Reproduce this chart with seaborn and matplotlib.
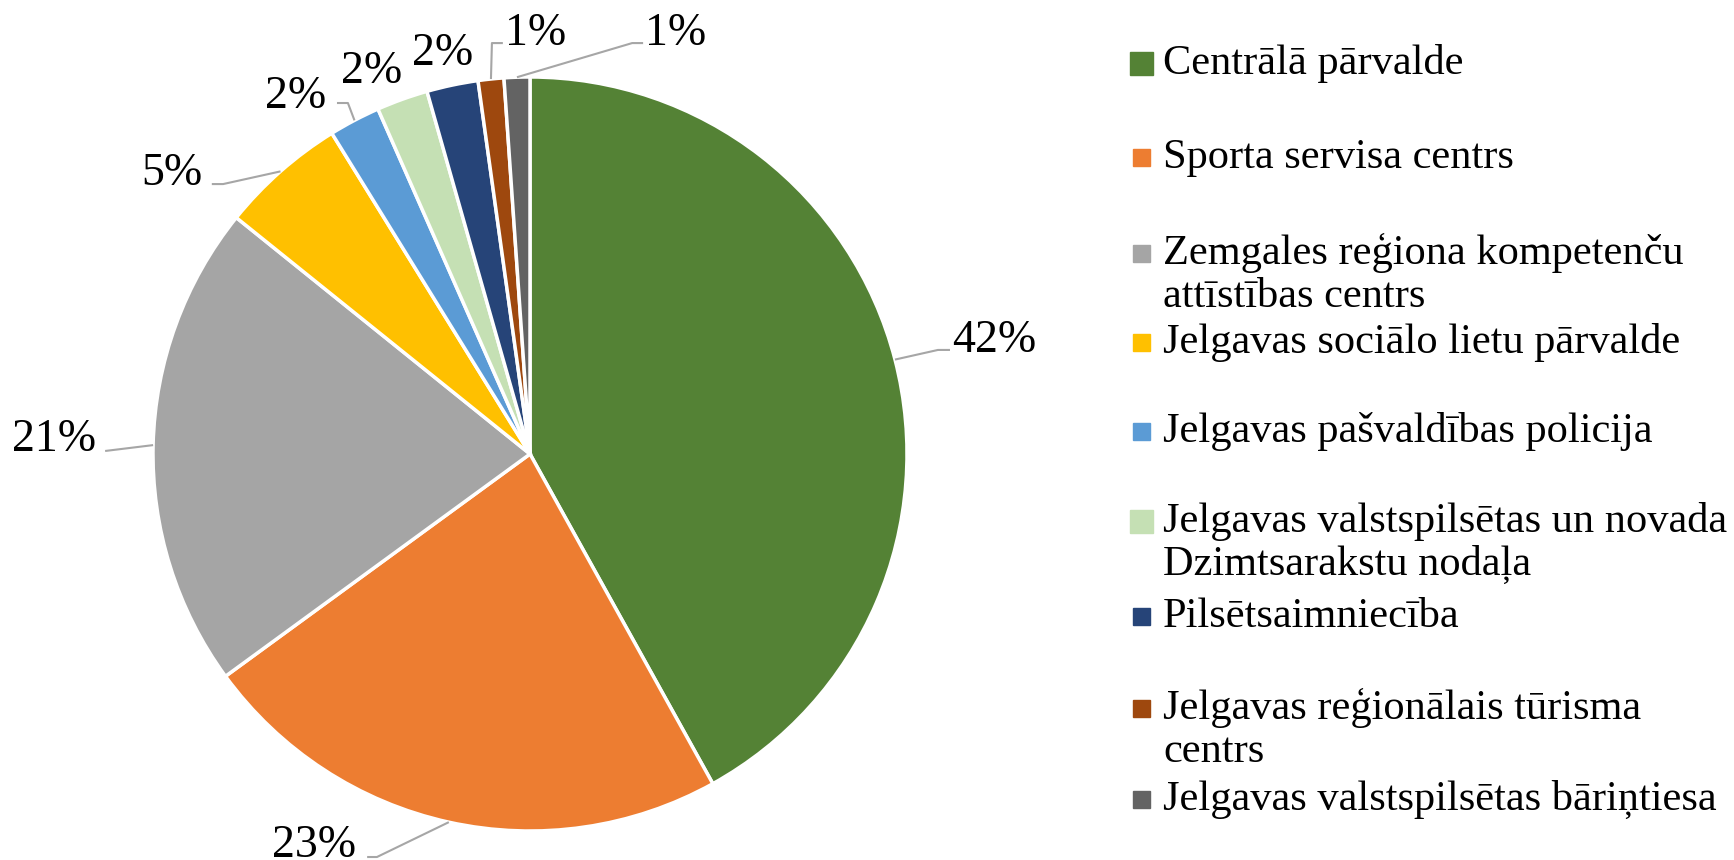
import matplotlib
matplotlib.use("Agg")
import matplotlib.pyplot as plt
import seaborn as sns
from matplotlib.patches import Rectangle
import numpy as np

# data (shares, %)
categories = [
    "Centrālā pārvalde",
    "Sporta servisa centrs",
    "Zemgales reģiona kompetenču\nattīstības centrs",
    "Jelgavas sociālo lietu pārvalde",
    "Jelgavas pašvaldības policija",
    "Jelgavas valstspilsētas un novada\nDzimtsarakstu nodaļa",
    "Pilsētsaimniecība",
    "Jelgavas reģionālais tūrisma\ncentrs",
    "Jelgavas valstspilsētas bāriņtiesa",
]
shares = [41.9, 23.0, 20.8, 5.4, 2.2, 2.2, 2.2, 1.1, 1.1]
colors = ["#548235", "#ED7D31", "#A5A5A5", "#FFC000", "#5B9BD5",
          "#C5E0B4", "#264478", "#9E480E", "#636363"]

# label layout (data units, pie radius = 1): text anchor and leader elbow/end
label_pos = [(1.231, 0.271), (-0.573, -1.069), (-1.263, 0.008), (-0.950, 0.714),
             (-0.623, 0.918), (-0.419, 0.984), (-0.233, 1.032), (0.016, 1.085),
             (0.385, 1.085)]
leader = [((1.082, 0.276), (1.114, 0.276)), ((-0.406, -1.069), (-0.432, -1.069)),
          ((-1.127, 0.008), (-1.127, 0.008)), ((-0.814, 0.716), (-0.844, 0.716)),
          ((-0.483, 0.931), (-0.512, 0.931)), None, None,
          ((-0.101, 1.090), (-0.072, 1.090)), ((0.271, 1.090), (0.300, 1.090))]

# legend layout (pixels from top-left): first-line baselines
legend_base = [74, 168, 264, 353, 442, 532, 627, 719, 810]
marker_size = [23, 17, 17, 17, 17, 23, 17, 17, 17]
line_step = 43

sns.set_theme(style="white")
plt.rcParams["font.family"] = ["Liberation Serif", "DejaVu Serif"]

W, H = 1734, 860
fig = plt.figure(figsize=(W / 100, H / 100), dpi=100)

cx, cy, R = 530, 454, 377
xl, yl = 1.45, 1.2
ax = fig.add_axes([(cx - xl * R) / W, (H - cy - yl * R) / H, 2 * xl * R / W, 2 * yl * R / H])
wedges, _ = ax.pie(shares, colors=colors, startangle=90, counterclock=False,
                   wedgeprops=dict(edgecolor="white", linewidth=2.5))
ax.set_xlim(-xl, xl)
ax.set_ylim(-yl, yl)
ax.axis("off")

for w, v, (tx, ty), ld in zip(wedges, shares, label_pos, leader):
    mid = np.deg2rad((w.theta1 + w.theta2) / 2)
    ex, ey = np.cos(mid), np.sin(mid)
    if ld is not None:
        (bx, by), (fx, fy) = ld
        ax.plot([ex, bx, fx], [ey, by, fy], color="#A6A6A6", lw=1.5,
                solid_capstyle="butt", clip_on=False, zorder=1)
    ax.text(tx, ty, f"{round(v)}%", ha="center", va="baseline", fontsize=33,
            color="black", clip_on=False)

lax = fig.add_axes([0, 0, 1, 1], zorder=-1)
lax.set_xlim(0, W)
lax.set_ylim(H, 0)
lax.axis("off")
for name, col, yb, ms in zip(categories, colors, legend_base, marker_size):
    yc = yb - 11
    lax.add_patch(Rectangle((1141 - ms / 2, yc - ms / 2), ms, ms, color=col))
    lines = name.split("\n")
    for i, line in enumerate(lines):
        lax.text(1163, yb + i * line_step, line, ha="left", va="baseline",
                 fontsize=30.5, color="black")

fig.savefig("out.png", dpi=100)
